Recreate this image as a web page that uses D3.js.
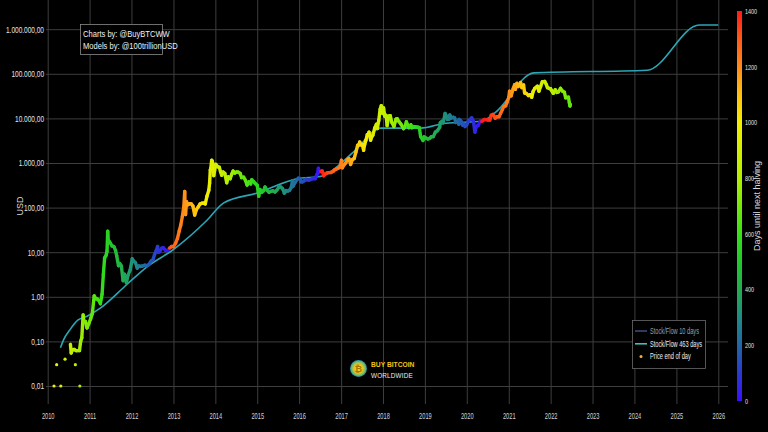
<!DOCTYPE html>
<html><head><meta charset="utf-8">
<script src="https://cdn.jsdelivr.net/npm/d3@7"></script>
<style>
html,body{margin:0;padding:0;background:#000;}
svg{display:block;font-family:"Liberation Sans",Arial,sans-serif;}
</style></head>
<body>
<svg id="c" width="768" height="432"></svg>
<script>
// ---------------- DATA ----------------
const yearTicks = ["2010","2011","2012","2013","2014","2015","2016","2017","2018","2019","2020","2021","2022","2023","2024","2025","2026"];
const priceTicks = [0.01,0.1,1,10,100,1000,10000,100000,1000000];
const dayTicks = [0,200,400,600,800,1000,1200,1400];
const halvings = ["2012-11-28","2016-07-09","2020-05-11","2024-04-20"];
const legendLabels = ["Stock/Flow 10 days","Stock/Flow 463 days","Price end of day"];
const credits = ["Charts by: @BuyBTCWW","Models by: @100trillionUSD"];

// sparse early end-of-day prices (2010)
const earlyPrice = [
 ["2010-02-25",0.01],["2010-03-20",0.03],["2010-04-25",0.01],["2010-06-01",0.04],
 ["2010-08-30",0.03],["2010-10-08",0.01]
];

const price = [
 ["2010-07-18",0.086],["2010-07-25",0.055],["2010-08-05",0.065],["2010-08-20",0.066],["2010-09-05",0.062],
 ["2010-09-20",0.062],["2010-10-05",0.062],["2010-10-15",0.1],["2010-10-25",0.12],["2010-11-06",0.39],
 ["2010-11-12",0.27],["2010-11-25",0.28],["2010-12-10",0.2],["2010-12-25",0.25],["2011-01-10",0.32],
 ["2011-01-25",0.42],["2011-02-10",1.05],["2011-02-25",0.9],["2011-03-10",0.89],["2011-03-25",0.82],
 ["2011-04-05",0.7],["2011-04-20",1.15],["2011-05-01",3.2],["2011-05-12",7.5],["2011-05-25",8.5],
 ["2011-06-02",10.6],["2011-06-08",29.6],["2011-06-12",19],["2011-06-20",17.5],["2011-07-01",16.1],
 ["2011-07-15",13.9],["2011-08-01",13.3],["2011-08-15",11],["2011-08-25",8.4],["2011-09-10",5],
 ["2011-09-20",5.6],["2011-10-05",4.9],["2011-10-20",2.3],["2011-11-01",3.2],["2011-11-18",2.05],
 ["2011-12-01",3],["2011-12-20",3.95],["2012-01-08",7.1],["2012-01-20",6.3],["2012-02-05",5.8],
 ["2012-02-20",4.4],["2012-03-05",4.9],["2012-03-20",4.8],["2012-04-05",4.9],["2012-04-25",5.1],
 ["2012-05-15",5],["2012-06-01",5.3],["2012-06-20",6.3],["2012-07-05",6.7],["2012-07-20",8.8],
 ["2012-08-05",11.1],["2012-08-16",13.5],["2012-08-20",10],["2012-09-01",10.2],["2012-09-20",12.3],
 ["2012-10-05",12.6],["2012-10-25",10.9],["2012-11-10",10.9],["2012-11-28",12.4],["2012-12-15",13.4],
 ["2013-01-01",13.3],["2013-01-20",16],["2013-02-05",20.4],["2013-02-20",29.8],["2013-03-05",40],
 ["2013-03-20",64],["2013-04-01",104],["2013-04-09",230],["2013-04-12",120],["2013-04-16",70],
 ["2013-04-25",135],["2013-05-05",115],["2013-05-20",122],["2013-06-05",121],["2013-06-20",108],
 ["2013-07-05",68],["2013-07-20",90],["2013-08-05",104],["2013-08-20",120],["2013-09-05",125],
 ["2013-09-20",126],["2013-10-05",121],["2013-10-20",180],["2013-11-05",245],["2013-11-12",355],
 ["2013-11-18",700],["2013-11-22",750],["2013-11-30",1150],["2013-12-05",1100],["2013-12-10",975],
 ["2013-12-18",520],["2013-12-25",670],["2014-01-05",930],["2014-01-20",830],["2014-02-05",800],
 ["2014-02-15",640],["2014-02-25",530],["2014-03-10",630],["2014-03-25",580],["2014-04-10",360],
 ["2014-04-25",490],["2014-05-10",445],["2014-05-25",570],["2014-06-05",660],["2014-06-20",595],
 ["2014-07-05",630],["2014-07-20",625],["2014-08-05",585],["2014-08-18",470],["2014-09-05",480],
 ["2014-09-20",410],["2014-10-05",320],["2014-10-20",380],["2014-11-05",340],["2014-11-15",420],
 ["2014-12-01",380],["2014-12-15",345],["2015-01-01",315],["2015-01-14",180],["2015-01-25",255],
 ["2015-02-10",220],["2015-02-25",238],["2015-03-10",290],["2015-03-25",248],["2015-04-14",220],
 ["2015-05-01",232],["2015-05-20",237],["2015-06-05",225],["2015-06-20",245],["2015-07-10",290],
 ["2015-07-25",290],["2015-08-10",265],["2015-08-25",210],["2015-09-10",240],["2015-09-25",235],
 ["2015-10-10",246],["2015-10-25",285],["2015-11-04",400],["2015-11-11",305],["2015-11-25",360],
 ["2015-12-10",415],["2015-12-25",455],["2016-01-10",448],["2016-01-15",380],["2016-01-30",378],
 ["2016-02-15",400],["2016-03-01",430],["2016-03-15",415],["2016-04-01",417],["2016-04-15",430],
 ["2016-05-01",450],["2016-05-20",443],["2016-06-01",536],["2016-06-10",575],["2016-06-17",760],
 ["2016-06-25",630],["2016-07-09",650],["2016-07-20",665],["2016-08-03",520],["2016-08-20",580],
 ["2016-09-05",607],["2016-09-20",610],["2016-10-05",612],["2016-10-25",655],["2016-11-05",700],
 ["2016-11-20",730],["2016-12-05",760],["2016-12-20",790],["2017-01-04",1150],["2017-01-12",780],
 ["2017-01-25",895],["2017-02-10",1000],["2017-02-25",1180],["2017-03-10",1260],["2017-03-25",930],
 ["2017-04-10",1200],["2017-04-25",1260],["2017-05-10",1760],["2017-05-25",2500],["2017-06-05",2550],
 ["2017-06-12",2950],["2017-06-25",2550],["2017-07-05",2600],["2017-07-16",1930],["2017-07-25",2600],
 ["2017-08-05",3230],["2017-08-17",4330],["2017-08-25",4350],["2017-09-01",4900],["2017-09-15",3250],
 ["2017-09-25",3900],["2017-10-05",4200],["2017-10-20",6000],["2017-11-05",7400],["2017-11-12",5900],
 ["2017-11-25",9000],["2017-12-07",16000],["2017-12-17",19300],["2017-12-22",13800],["2017-12-30",12900],
 ["2018-01-06",17100],["2018-01-17",11200],["2018-01-28",11700],["2018-02-06",6900],["2018-02-20",11200],
 ["2018-03-05",11500],["2018-03-18",8200],["2018-04-06",6600],["2018-04-24",9600],["2018-05-05",9800],
 ["2018-05-20",8500],["2018-06-05",7500],["2018-06-29",5900],["2018-07-10",6400],["2018-07-24",8400],
 ["2018-08-14",6200],["2018-09-01",7200],["2018-09-10",6200],["2018-09-25",6500],["2018-10-15",6450],
 ["2018-11-01",6350],["2018-11-14",6200],["2018-11-25",3900],["2018-12-15",3200],["2018-12-25",3850],
 ["2019-01-10",3650],["2019-01-28",3450],["2019-02-15",3600],["2019-02-25",3850],["2019-03-15",3900],
 ["2019-04-02",4900],["2019-04-20",5300],["2019-05-10",6350],["2019-05-15",8000],["2019-05-30",8600],
 ["2019-06-10",8000],["2019-06-26",12900],["2019-07-03",11900],["2019-07-16",9500],["2019-07-30",9600],
 ["2019-08-06",11900],["2019-08-20",10200],["2019-09-05",10600],["2019-09-18",10200],["2019-09-26",8100],
 ["2019-10-10",8600],["2019-10-24",7400],["2019-10-26",9500],["2019-11-10",8800],["2019-11-25",7100],
 ["2019-12-05",7500],["2019-12-17",6600],["2020-01-01",7200],["2020-01-15",8800],["2020-02-13",10300],
 ["2020-02-28",8700],["2020-03-12",4900],["2020-03-25",6700],["2020-04-10",6900],["2020-04-29",8800],
 ["2020-05-11",8600],["2020-05-31",9450],["2020-06-15",9400],["2020-07-01",9200],["2020-07-20",9200],
 ["2020-08-01",11800],["2020-08-17",12300],["2020-09-05",10100],["2020-09-20",10900],["2020-10-08",10900],
 ["2020-10-21",12800],["2020-11-05",15600],["2020-11-20",18700],["2020-12-05",19100],["2020-12-17",23000],
 ["2021-01-01",29400],["2021-01-08",40600],["2021-01-22",32000],["2021-02-08",46000],["2021-02-21",57000],
 ["2021-02-28",45000],["2021-03-13",61000],["2021-03-25",52000],["2021-04-14",63500],["2021-04-25",49000],
 ["2021-05-10",56000],["2021-05-19",37000],["2021-06-01",36500],["2021-06-22",32500],["2021-07-06",34000],
 ["2021-07-20",29800],["2021-08-01",40000],["2021-08-15",47000],["2021-09-07",52700],["2021-09-21",40700],
 ["2021-10-05",51500],["2021-10-20",66000],["2021-11-10",67500],["2021-11-25",57000],["2021-12-04",49000],
 ["2021-12-20",46700],["2021-12-31",46300],["2022-01-10",41800],["2022-01-24",36500],["2022-02-10",44000],
 ["2022-02-24",38300],["2022-03-10",39400],["2022-03-28",47100],["2022-04-15",40500],["2022-05-01",38500],
 ["2022-05-12",29000],["2022-05-25",29500],["2022-06-05",29900],["2022-06-13",22500],["2022-06-18",19000],
 ["2022-06-22",20700]
];

// Stock-to-Flow 463-day model
const s2f463 = [
 ["2010-04-22",0.072],["2010-05-20",0.11],["2010-07-12",0.18],["2010-09-20",0.30],["2010-12-05",0.36],
 ["2011-04-01",0.55],["2011-11-17",1.84],["2012-05-15",4.7],["2013-01-01",11.5],["2013-10-20",52],
 ["2014-03-15",128],["2015-01-01",213],["2015-12-10",440],["2016-07-20",510],["2017-04-20",1780],
 ["2017-12-15",6050],["2018-11-25",6050],["2019-07-01",7800],["2020-05-08",8600],["2020-09-05",13500],
 ["2021-08-08",105000],["2024-04-20",120000],["2025-07-20",1240000],["2026-01-01",1240000]
];

// ---------------- CHART ----------------
const svg = d3.select("#c");
const W = 768, H = 432;
svg.append("rect").attr("width",W).attr("height",H).attr("fill","#000");

function narrow(sel, f){
  sel.each(function(){
    const w = this.getComputedTextLength();
    d3.select(this).attr("textLength", w*f).attr("lengthAdjust","spacingAndGlyphs");
  });
}

const pd = d3.utcParse("%Y-%m-%d");
const x = d3.scaleUtc().domain([pd("2010-01-01"), pd("2026-01-01")]).range([47.7, 718.3]);
const y = d3.scaleLog().domain([0.01, 1e6]).range([386, 29.2]);
const plotL = 46, plotR = 728, plotB = 404;

const halvingDates = halvings.map(pd);
function daysToHalving(d){
  const nh = halvingDates.find(h => h >= d) || halvingDates[halvingDates.length-1];
  return (nh - d) / 86400000;
}
const colStops = [0,100,200,300,400,500,600,800,1000,1100,1200,1300,1400];
const colVals  = ["#3a10ff","#2a3ad0","#2266a8","#1f8c84","#23ac52","#22c82c","#38e018","#b4f000","#f2ee00","#ffc010","#ff8a1c","#ff5a18","#ff1a1a"];
const color = d3.scaleLinear().domain(colStops).range(colVals).clamp(true);

const fmtL = d3.formatLocale({decimal:",", thousands:".", grouping:[3], currency:["",""]});
const fmt = fmtL.format(",.2f");

// grid + axes
const gx = svg.append("g").attr("transform",`translate(0,${plotB})`)
  .call(d3.axisBottom(x).tickValues(yearTicks.map(t=>pd(t+"-01-01"))).tickFormat(d3.utcFormat("%Y"))
        .tickSize(-plotB).tickSizeOuter(0).tickPadding(8.5));
gx.select(".domain").remove();
gx.selectAll("line").attr("stroke","#3e3e3e").attr("stroke-width",1);
gx.selectAll("text").attr("fill","#d4d4d4").attr("font-size",8.6).attr("font-family","Liberation Sans, Arial, sans-serif");
narrow(gx.selectAll("text"), 0.66);

const gy = svg.append("g").attr("transform",`translate(${plotL},0)`)
  .call(d3.axisLeft(y).tickValues(priceTicks).tickFormat(fmt).tickSize(-(plotR-plotL)).tickPadding(2));
gy.select(".domain").remove();
gy.selectAll("line").attr("stroke","#3e3e3e").attr("stroke-width",1);
gy.selectAll("text").attr("fill","#e4e4e4").attr("font-size",8.8).attr("font-family","Liberation Sans, Arial, sans-serif");
narrow(gy.selectAll("text"), 0.74);

svg.append("text").attr("transform","translate(23,206) rotate(-90)").attr("text-anchor","middle")
  .attr("fill","#d8d8d8").attr("font-size",9).text("USD");

// S2F line
const line = d3.line().x(d=>x(pd(d[0]))).y(d=>y(d[1])).curve(d3.curveMonotoneX);
svg.append("path").datum(s2f463).attr("d",line).attr("fill","none")
  .attr("stroke","#2aa7b6").attr("stroke-width",1.6);

// price segments
const pts = price.map(d=>({d:pd(d[0]), v:d[1]}));
const segG = svg.append("g");
for (let i=1;i<pts.length;i++){
  const a=pts[i-1], b=pts[i];
  const mid = new Date((+a.d + +b.d)/2);
  segG.append("line").attr("x1",x(a.d)).attr("y1",y(a.v)).attr("x2",x(b.d)).attr("y2",y(b.v))
    .attr("stroke",color(daysToHalving(mid))).attr("stroke-width",3.4).attr("stroke-linecap","round");
}
// early dots
svg.append("g").selectAll("circle").data(earlyPrice).join("circle")
  .attr("cx",d=>x(pd(d[0]))).attr("cy",d=>y(d[1])).attr("r",1.6)
  .attr("fill",d=>color(daysToHalving(pd(d[0]))));

// colorbar
const cy = d3.scaleLinear().domain([0,1400]).range([401,11]);
const defs = svg.append("defs");
const grad = defs.append("linearGradient").attr("id","cb").attr("x1",0).attr("y1",1).attr("x2",0).attr("y2",0);
colStops.forEach((s,i)=>grad.append("stop").attr("offset",s/1400).attr("stop-color",colVals[i]));
svg.append("rect").attr("x",737).attr("y",cy(1400)).attr("width",5).attr("height",cy(0)-cy(1400)).attr("fill","url(#cb)");
const gc = svg.append("g").attr("transform","translate(742,0)")
  .call(d3.axisRight(cy).tickValues(dayTicks).tickFormat(d3.format("d")).tickSize(0).tickPadding(3));
gc.select(".domain").remove();
gc.selectAll("text").attr("fill","#e0e0e0").attr("font-size",7.4).attr("font-family","Liberation Sans, Arial, sans-serif");
narrow(gc.selectAll("text"), 0.74);
svg.append("text").attr("transform","translate(760,206) rotate(-90)").attr("text-anchor","middle")
  .attr("fill","#d8d8d8").attr("font-size",9).text("Days until next halving");

// credits box
svg.append("rect").attr("x",80.5).attr("y",24.5).attr("width",82).attr("height",30)
  .attr("fill","#000").attr("stroke","#8a8a8a").attr("stroke-width",0.8);
const cr = svg.append("g");
credits.forEach((t,i)=>cr.append("text").attr("x",83).attr("y",36.8+i*12).attr("fill","#f0f0f0")
  .attr("font-size",8.8).text(t));
narrow(cr.selectAll("text"), 0.86);

// legend
svg.append("rect").attr("x",632.5).attr("y",320.5).attr("width",73).attr("height",48)
  .attr("fill","#000").attr("stroke","#6a6a6a").attr("stroke-width",0.8);
const legCols = ["#3d4a72","#3cc0c4","#f0b040"];
const legTxt = ["#9aa0a8","#f0f0f0","#f0f0f0"];
const lg = svg.append("g");
legendLabels.forEach((t,i)=>{
  const ly = 331 + i*12.8;
  if (i<2) lg.append("line").attr("x1",635).attr("x2",647).attr("y1",ly).attr("y2",ly)
     .attr("stroke",legCols[i]).attr("stroke-width",1.6);
  else lg.append("circle").attr("cx",641).attr("cy",ly).attr("r",1.5).attr("fill",legCols[i]);
  lg.append("text").attr("x",650).attr("y",ly+2.8).attr("fill",legTxt[i]).attr("font-size",8.2).text(t);
});
narrow(lg.selectAll("text"), 0.69);

// logo
const rg = defs.append("radialGradient").attr("id","coin");
rg.append("stop").attr("offset",0).attr("stop-color","#ffd21a");
rg.append("stop").attr("offset",0.55).attr("stop-color","#e8c020");
rg.append("stop").attr("offset",0.8).attr("stop-color","#6cc070");
rg.append("stop").attr("offset",1).attr("stop-color","#1a8aa8");
svg.append("circle").attr("cx",358.5).attr("cy",368.5).attr("r",8.5).attr("fill","url(#coin)");
svg.append("text").attr("x",358.5).attr("y",372).attr("text-anchor","middle").attr("fill","#a07a00")
  .attr("font-size",9).attr("font-weight","bold").attr("font-family","DejaVu Sans, sans-serif").text("₿");
const lt = svg.append("g");
lt.append("text").attr("x",371).attr("y",367).attr("fill","#f5c518").attr("font-size",7.8).attr("font-weight","bold").text("BUY BITCOIN");
lt.append("text").attr("x",371).attr("y",377.5).attr("fill","#f0f0f0").attr("font-size",7.4).attr("letter-spacing",0.2).text("WORLDWIDE");
narrow(lt.selectAll("text"), 0.86);
</script>
</body></html>
